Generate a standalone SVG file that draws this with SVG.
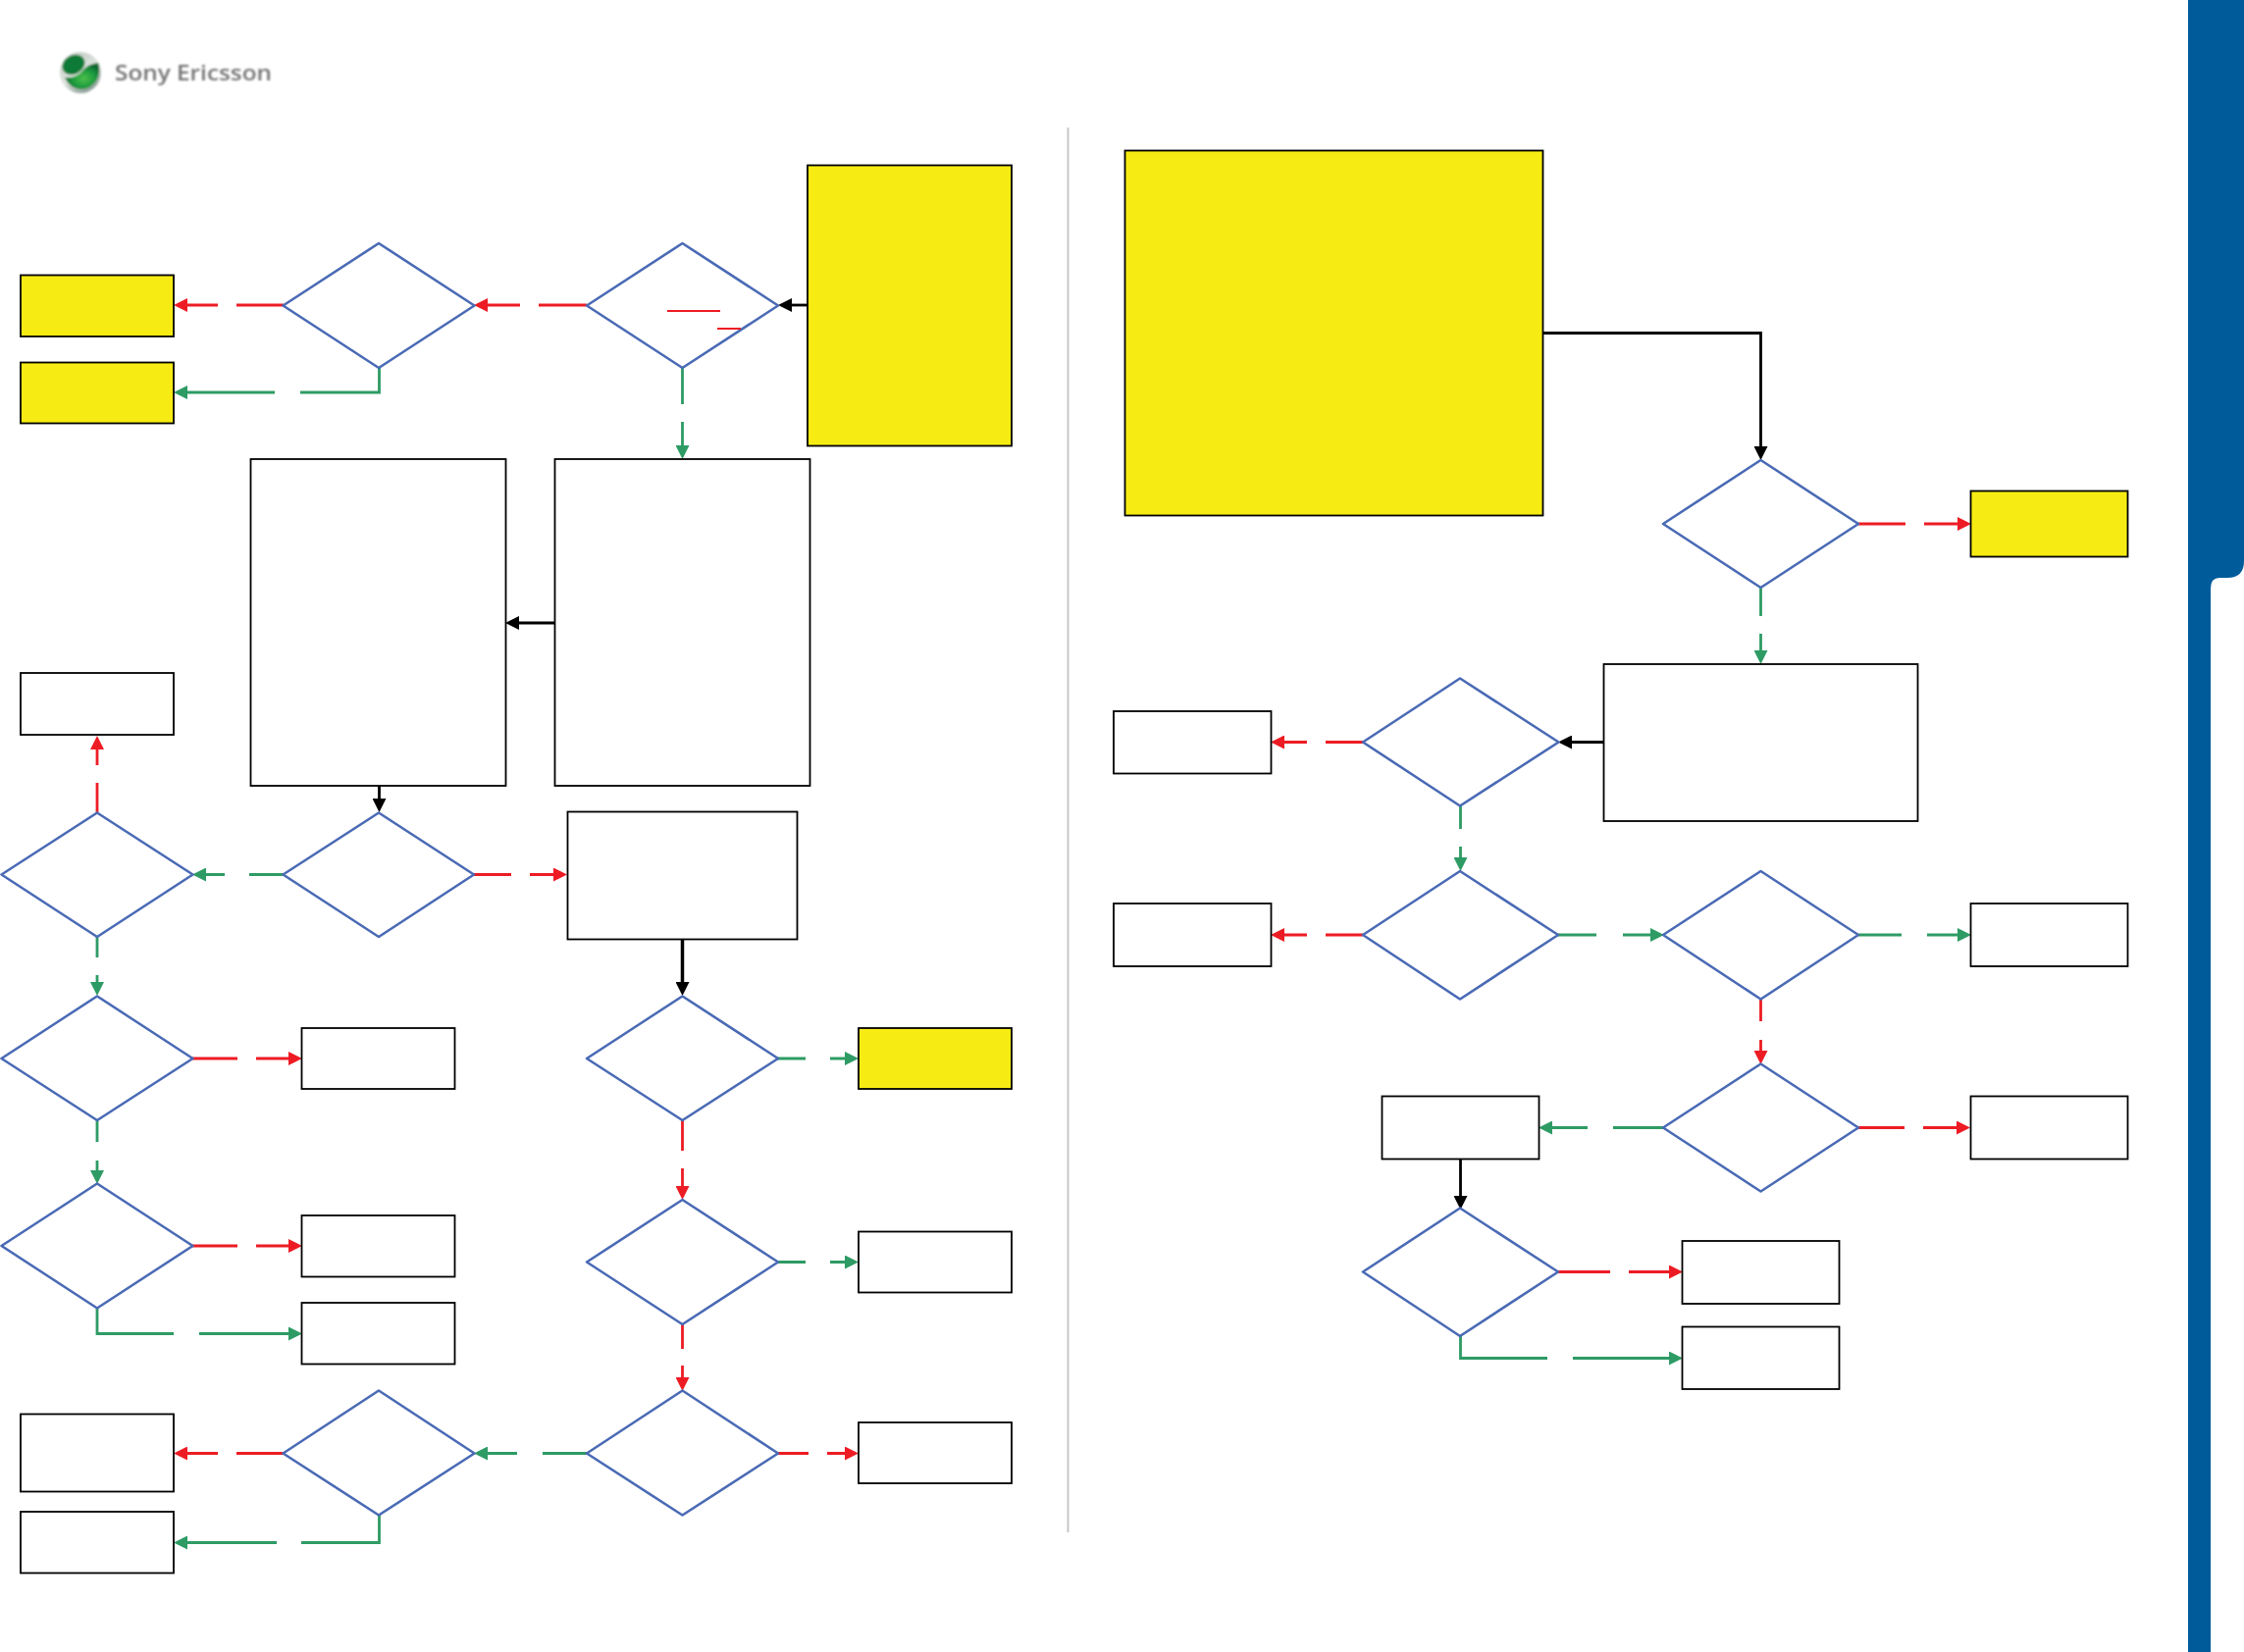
<svg xmlns="http://www.w3.org/2000/svg" width="2287" height="1684" viewBox="0 0 2287 1684">
<style>
.b{fill:#fff;stroke:#000;stroke-width:1.8}
.y{fill:#f6ec13;stroke:#000;stroke-width:1.8}
.d{fill:#fff;stroke:#4a6ab5;stroke-width:2.6;stroke-linejoin:round}
.r,.g,.k{fill:none;stroke-width:2.800}
.r{stroke:#ed1c24;marker-end:url(#ar)}
.g{stroke:#2e9b64;marker-end:url(#ag)}
.k{stroke:#000;marker-end:url(#ak)}
</style>
<defs>
<marker id="ar" markerUnits="userSpaceOnUse" markerWidth="14" markerHeight="14" refX="7" refY="7" orient="auto" viewBox="0 0 14 14"><path d="M0 0L14 7L0 14z" fill="#ed1c24"/></marker>
<marker id="ag" markerUnits="userSpaceOnUse" markerWidth="14" markerHeight="14" refX="7" refY="7" orient="auto" viewBox="0 0 14 14"><path d="M0 0L14 7L0 14z" fill="#2e9b64"/></marker>
<marker id="ak" markerUnits="userSpaceOnUse" markerWidth="14" markerHeight="14" refX="7" refY="7" orient="auto" viewBox="0 0 14 14"><path d="M0 0L14 7L0 14z" fill="#000"/></marker>
<radialGradient id="ball" cx=".55" cy=".6" r=".55"><stop offset="0" stop-color="#4cc04a"/><stop offset=".6" stop-color="#1c9a3e"/><stop offset="1" stop-color="#0c6a30"/></radialGradient>
<linearGradient id="rim" x1="0" y1="0" x2=".6" y2="1"><stop offset="0" stop-color="#b9c4bb"/><stop offset=".6" stop-color="#dfe4df"/><stop offset="1" stop-color="#8fa09a"/></linearGradient>
<filter id="soft" x="-10%" y="-20%" width="120%" height="140%"><feGaussianBlur stdDeviation=".8"/></filter>
</defs>

<g id="sidebar"><path d="M2230 0H2287V572Q2287 589 2270 589H2262Q2253 589 2253 600V1684H2230Z" fill="#005b9a"/></g>
<g id="divider"><line x1="1088.500" y1="130" x2="1088.500" y2="1562" stroke="#c8c8c8" stroke-width="2"/></g>

<g id="logo" filter="url(#soft)">
<circle cx="82" cy="74" r="21" fill="url(#rim)"/>
<ellipse cx="75" cy="66" rx="12" ry="9.500" fill="#0f7a38" transform="rotate(-30 75 66)"/>
<path d="M66 79Q78 80 84 72Q90 65 100 64Q103 72 99 81Q93 91 82 91Q71 90 66 79Z" fill="url(#ball)"/>
<text x="117" y="82" font-family="'Open Sans','Liberation Sans',sans-serif" font-size="21" font-weight="600" fill="#757575" textLength="160" lengthAdjust="spacingAndGlyphs">Sony Ericsson</text>
</g>

<g id="connectors">
<path class="k" d="M823 311H800"/>
<path class="r" d="M598 311H549M530 311H490"/>
<path class="r" d="M289 311H241M222 311H184"/>
<path class="g" d="M386.500 375V400H306M280 400H184"/>
<path class="g" d="M695.500 374V412M695.500 430V461"/>
<path class="k" d="M565 635H522"/>
<path class="k" d="M386.500 800V821"/>
<path class="g" d="M289 891.500H254M229 891.500H203"/>
<path class="r" d="M483 891.500H521M540 891.500H571"/>
<path class="r" d="M99 828V798M99 780V757"/>
<path class="g" d="M99 954V976M99 994V1008"/>
<path class="r" d="M196 1079H242M261 1079H301"/>
<path class="g" d="M99 1141V1164M99 1183V1200"/>
<path class="r" d="M196 1270H242M261 1270H301"/>
<path class="g" d="M99 1332V1359.500H177M203 1359.500H301"/>
<path class="k" d="M695.500 956V1008" style="stroke-width:3.500"/>
<path class="g" d="M792 1079H821M846 1079H868"/>
<path class="r" d="M695.500 1141V1173M695.500 1191V1216"/>
<path class="g" d="M792 1286.500H821M846 1286.500H868"/>
<path class="r" d="M695.500 1349V1375M695.500 1392V1411"/>
<path class="r" d="M792 1481.500H824M843 1481.500H868"/>
<path class="g" d="M598 1481.500H553M527 1481.500H490"/>
<path class="r" d="M289 1481.500H241M222 1481.500H184"/>
<path class="g" d="M386.500 1544V1572.500H307M282 1572.500H184"/>

<path class="k" d="M1572 339.500H1794.500V462"/>
<path class="r" d="M1894 534H1942M1961 534H2002"/>
<path class="g" d="M1794.500 598V628M1794.500 646V670"/>
<path class="k" d="M1634 756.500H1595"/>
<path class="r" d="M1389 756.500H1351M1332 756.500H1302"/>
<path class="g" d="M1488.500 821V845M1488.500 863V881"/>
<path class="r" d="M1389 953H1351M1332 953H1302"/>
<path class="g" d="M1587 953H1627M1654 953H1689"/>
<path class="g" d="M1894 953H1938M1964 953H2002"/>
<path class="r" d="M1794.500 1017V1041M1794.500 1060V1078"/>
<path class="r" d="M1894 1149.500H1941M1960 1149.500H2001"/>
<path class="g" d="M1695 1149.500H1644M1618 1149.500H1575"/>
<path class="k" d="M1488.500 1181V1226"/>
<path class="r" d="M1587 1296.500H1641M1660 1296.500H1708"/>
<path class="g" d="M1488.500 1361V1384.500H1577M1603 1384.500H1708"/>
</g>

<g id="n1"><rect class="y" x="21" y="280.500" width="156" height="62.500"/></g>
<g id="n2"><rect class="y" x="21" y="369.500" width="156" height="62"/></g>
<g id="n3"><path class="d" d="M386 248L483.500 311.500L386 375L288.500 311.500Z"/></g>
<g id="n4"><path class="d" d="M695.500 248L793 311.500L695.500 375L598 311.500Z"/>
<line x1="680" y1="317" x2="734" y2="317" stroke="#ed1c24" stroke-width="2"/>
<line x1="731" y1="335" x2="755" y2="335" stroke="#ed1c24" stroke-width="2"/></g>
<g id="n5"><rect class="y" x="823" y="168.500" width="208" height="286"/></g>
<g id="n6"><rect class="b" x="255.500" y="468" width="260" height="333"/></g>
<g id="n7"><rect class="b" x="565.500" y="468" width="260" height="333"/></g>
<g id="n8"><rect class="b" x="21" y="686" width="156" height="63"/></g>
<g id="n9"><path class="d" d="M99 828.500L196.500 891.500L99 955L1.500 891.500Z"/></g>
<g id="n10"><path class="d" d="M386 828.500L483 891.500L386 955L288.500 891.500Z"/></g>
<g id="n11"><rect class="b" x="578.500" y="827.500" width="234" height="130"/></g>
<g id="n12"><path class="d" d="M99 1015.500L196.500 1079L99 1142L1.500 1079Z"/></g>
<g id="n13"><rect class="b" x="307.500" y="1048" width="156" height="62"/></g>
<g id="n14"><path class="d" d="M695.500 1015.500L793 1079L695.500 1142L598 1079Z"/></g>
<g id="n15"><rect class="y" x="875" y="1048" width="156" height="62"/></g>
<g id="n16"><path class="d" d="M99 1206.500L196.500 1270L99 1333.500L1.500 1270Z"/></g>
<g id="n17"><rect class="b" x="307.500" y="1239" width="156" height="62.500"/></g>
<g id="n18"><rect class="b" x="307.500" y="1328" width="156" height="62.500"/></g>
<g id="n19"><path class="d" d="M695.500 1223L793 1286.500L695.500 1350L598 1286.500Z"/></g>
<g id="n20"><rect class="b" x="875" y="1255.500" width="156" height="62"/></g>
<g id="n21"><path class="d" d="M695.500 1417.500L793 1481.500L695.500 1544.500L598 1481.500Z"/></g>
<g id="n22"><path class="d" d="M386 1417.500L483.500 1481.500L386 1544.500L288.500 1481.500Z"/></g>
<g id="n23"><rect class="b" x="875" y="1450" width="156" height="62"/></g>
<g id="n24"><rect class="b" x="21" y="1441.500" width="156" height="79"/></g>
<g id="n25"><rect class="b" x="21" y="1541" width="156" height="62.500"/></g>

<g id="n26"><rect class="y" x="1146.500" y="153.500" width="426" height="372"/></g>
<g id="n27"><path class="d" d="M1794.500 469L1894 534L1794.500 599L1695 534Z"/></g>
<g id="n28"><rect class="y" x="2008.500" y="500.500" width="160" height="67"/></g>
<g id="n29"><rect class="b" x="1634.500" y="677" width="320" height="160"/></g>
<g id="n30"><path class="d" d="M1488 691.500L1588.500 756.500L1488 821.500L1389 756.500Z"/></g>
<g id="n31"><rect class="b" x="1135" y="725" width="160.500" height="63.500"/></g>
<g id="n32"><path class="d" d="M1488 888L1588 953L1488 1018.500L1389 953Z"/></g>
<g id="n33"><rect class="b" x="1135" y="921" width="160.500" height="64"/></g>
<g id="n34"><path class="d" d="M1794.500 888L1894 953L1794.500 1018.500L1695 953Z"/></g>
<g id="n35"><rect class="b" x="2008.500" y="921" width="160" height="64"/></g>
<g id="n36"><path class="d" d="M1794.500 1084.500L1894 1149.500L1794.500 1214.500L1695 1149.500Z"/></g>
<g id="n37"><rect class="b" x="2008.500" y="1117.500" width="160" height="64"/></g>
<g id="n38"><rect class="b" x="1408.500" y="1117.500" width="160" height="64"/></g>
<g id="n39"><path class="d" d="M1488 1231.500L1588 1296.500L1488 1362L1389 1296.500Z"/></g>
<g id="n40"><rect class="b" x="1714.500" y="1265" width="160" height="64"/></g>
<g id="n41"><rect class="b" x="1714.500" y="1352.500" width="160" height="63.500"/></g>
</svg>
